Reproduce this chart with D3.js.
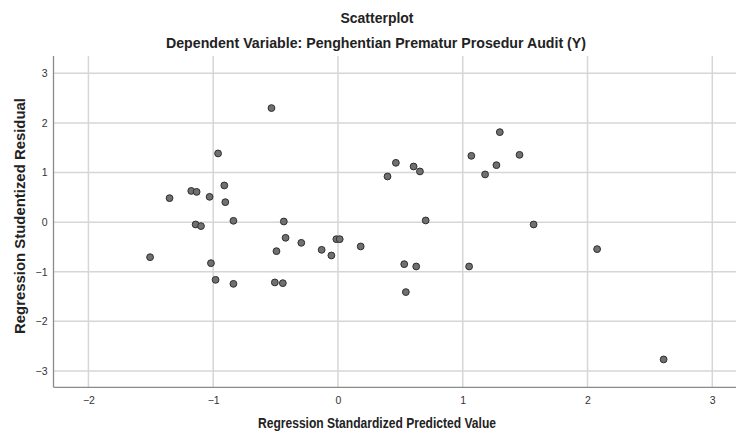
<!DOCTYPE html>
<html>
<head>
<meta charset="utf-8">
<script src="https://cdn.jsdelivr.net/npm/d3@7"></script>
<style>
  body { margin: 0; background: #fff; }
  text { font-family: "Liberation Sans", Arial, sans-serif; }
</style>
</head>
<body>
<svg width="736" height="432"></svg>
<script>
// predicted values (x) and studentized residuals (y)
const predicted = [
  -0.533, -0.961, -0.911, -1.176, -1.133, -1.350, -1.029, -0.903, -0.838, -0.434,
  -1.141, -1.098, -0.420, -0.294, -0.131, -0.053, -0.013, 0.014, -0.493, -1.506,
  -1.018, -0.981, -0.838, -0.506, -0.442, 0.182, 1.297, 1.455, 1.069, 0.464,
  0.606, 0.657, 1.270, 1.179, 0.397, 0.703, 1.568, 0.531, 0.627, 1.051,
  0.544, 2.077, 2.610
]
const residual = [
  2.30, 1.385, 0.74, 0.63, 0.61, 0.484, 0.51, 0.403, 0.027, 0.013,
  -0.047, -0.08, -0.316, -0.417, -0.558, -0.672, -0.343, -0.343, -0.585, -0.706,
  -0.827, -1.163, -1.244, -1.216, -1.23, -0.49, 1.815, 1.357, 1.337, 1.196,
  1.122, 1.022, 1.149, 0.962, 0.921, 0.034, -0.047, -0.847, -0.894, -0.894,
  -1.41, -0.544, -2.768
]
const xTicks = [-2, -1, 0, 1, 2, 3]
const yTicks = [-3, -2, -1, 0, 1, 2, 3]

const title = "Scatterplot"
const subtitle = "Dependent Variable: Penghentian Prematur Prosedur Audit (Y)"
const xLabel = "Regression Standardized Predicted Value"
const yLabel = "Regression Studentized Residual"

const svg = d3.select("svg")
const plotLeft = 53.5, plotRight = 736, plotTop = 56, plotBottom = 387.3

const x = d3.scaleLinear().domain([-2.28, 3.19]).range([plotLeft, plotRight])
const y = d3.scaleLinear().domain([-3.33, 3.35]).range([plotBottom, plotTop])

// grid
svg.append("g")
  .selectAll("line")
  .data(xTicks)
  .enter()
  .append("line")
  .attr("x1", (d) => x(d)).attr("x2", (d) => x(d))
  .attr("y1", plotTop).attr("y2", plotBottom)
  .attr("stroke", "#d6d6d6").attr("stroke-width", 1.5)

svg.append("g")
  .selectAll("line")
  .data(yTicks)
  .enter()
  .append("line")
  .attr("x1", plotLeft).attr("x2", plotRight)
  .attr("y1", (d) => y(d)).attr("y2", (d) => y(d))
  .attr("stroke", "#d6d6d6").attr("stroke-width", 1.5)

// axes
const xAxis = svg.append("g")
  .attr("transform", "translate(0," + plotBottom + ")")
  .call(d3.axisBottom(x).tickValues(xTicks).tickSize(0).tickPadding(9).tickFormat(d3.format("d")))
const yAxis = svg.append("g")
  .attr("transform", "translate(" + plotLeft + ",0)")
  .call(d3.axisLeft(y).tickValues(yTicks).tickSize(0).tickPadding(6).tickFormat(d3.format("d")))

for (const ax of [xAxis, yAxis]) {
  ax.select(".domain").attr("stroke", "#8a8a8a").attr("stroke-width", 1.3)
  ax.selectAll("text")
    .attr("font-size", 10.5)
    .attr("fill", "#333")
    .style("font-family", "'Liberation Sans', Arial, sans-serif")
}
xAxis.select(".domain").attr("d", "M" + plotLeft + ",0H" + plotRight)
yAxis.select(".domain").attr("d", "M0," + plotTop + "V" + plotBottom)

// points
svg.append("g")
  .selectAll("circle")
  .data(predicted)
  .enter()
  .append("circle")
  .attr("cx", (d) => x(d))
  .attr("cy", (d, i) => y(residual[i]))
  .attr("r", 3.4)
  .attr("fill", "#707070")
  .attr("stroke", "#2e2e2e")
  .attr("stroke-width", 1)

// titles (squeezed a bit, the original font is narrower)
svg.append("text")
  .attr("x", 377).attr("y", 23)
  .attr("text-anchor", "middle")
  .attr("font-size", 14.5).attr("font-weight", "bold").attr("fill", "#222")
  .attr("textLength", 73).attr("lengthAdjust", "spacingAndGlyphs")
  .text(title)
svg.append("text")
  .attr("x", 376).attr("y", 48)
  .attr("text-anchor", "middle")
  .attr("font-size", 14.5).attr("font-weight", "bold").attr("fill", "#222")
  .attr("textLength", 420).attr("lengthAdjust", "spacingAndGlyphs")
  .text(subtitle)
svg.append("text")
  .attr("x", 377).attr("y", 428)
  .attr("text-anchor", "middle")
  .attr("font-size", 15).attr("font-weight", "bold").attr("fill", "#222")
  .attr("textLength", 238).attr("lengthAdjust", "spacingAndGlyphs")
  .text(xLabel)
svg.append("text")
  .attr("transform", "translate(25,216) rotate(-90)")
  .attr("text-anchor", "middle")
  .attr("font-size", 15).attr("font-weight", "bold").attr("fill", "#222")
  .attr("textLength", 236).attr("lengthAdjust", "spacingAndGlyphs")
  .text(yLabel)
</script>
</body>
</html>
